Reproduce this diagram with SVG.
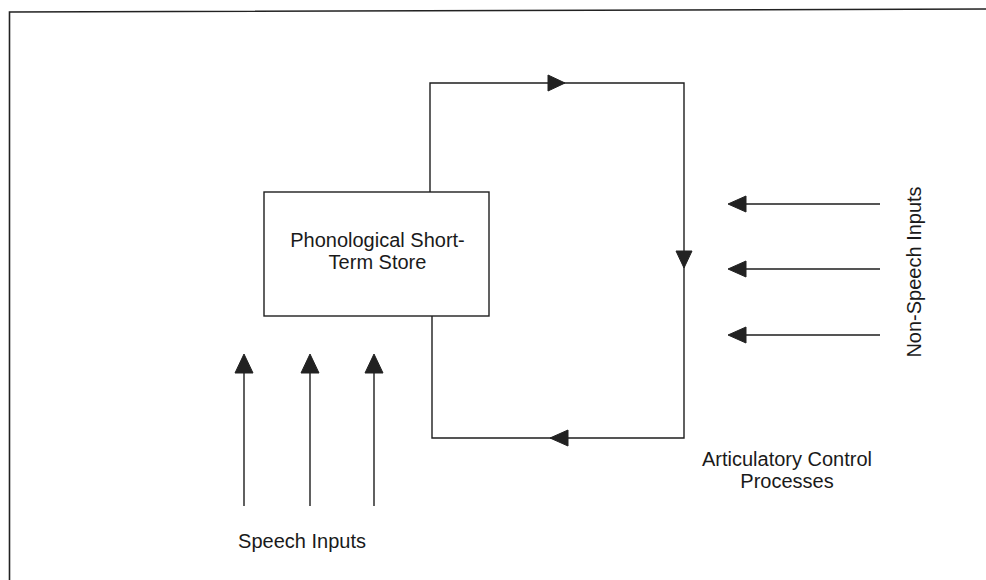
<svg xmlns="http://www.w3.org/2000/svg" width="986" height="580" viewBox="0 0 986 580">
  <style>
    .frame { fill: none; stroke: #222; stroke-width: 1.6; }
    .line { fill: none; stroke: #1e1e1e; stroke-width: 1.4; }
    .box { fill: #fff; stroke: #1e1e1e; stroke-width: 1.4; }
    .head { fill: #222; stroke: #222; stroke-width: 1; stroke-linejoin: round; }
    .label { font-family: "Liberation Sans", Arial, sans-serif; font-size: 20px; fill: #1a1a1a; }
  </style>

  <rect width="986" height="580" fill="#fff"/>

  <!-- outer frame (top and left edges only) -->
  <path class="frame" d="M9.5 580 L9.5 12 L986 9"/>

  <!-- store node -->
  <g id="store">
    <rect class="box" x="264" y="192" width="225" height="124"/>
    <text class="label" x="377.5" y="247" text-anchor="middle">Phonological Short-</text>
    <text class="label" x="377.5" y="269" text-anchor="middle">Term Store</text>
  </g>

  <!-- articulatory loop label -->
  <g id="articulatory">
    <text class="label" x="787" y="466" text-anchor="middle">Articulatory Control</text>
    <text class="label" x="787" y="488" text-anchor="middle">Processes</text>
  </g>

  <g id="speech-label">
    <text class="label" x="302" y="548" text-anchor="middle">Speech Inputs</text>
  </g>

  <g id="nonspeech-label">
    <text class="label" x="0" y="0" text-anchor="middle" transform="translate(921 272) rotate(-90)">Non-Speech Inputs</text>
  </g>

  <!-- connectors -->
  <g id="connectors">
    <!-- rehearsal loop -->
    <path class="line" d="M430 192 L430 83 L684 83 L684 438 L432 438 L432 316"/>
    <polygon class="head" points="565,83 548,75 548,91"/>
    <polygon class="head" points="684,268 676,251 692,251"/>
    <polygon class="head" points="550,438 568,430 568,446"/>

    <!-- speech inputs -->
    <path class="line" d="M244 506 L244 370 M310 506 L310 370 M374 506 L374 370"/>
    <polygon class="head" points="244,354 235,373 253,373"/>
    <polygon class="head" points="310,354 301,373 319,373"/>
    <polygon class="head" points="374,354 365,373 383,373"/>

    <!-- non-speech inputs -->
    <path class="line" d="M880 204 L744 204 M880 269 L744 269 M880 335 L744 335"/>
    <polygon class="head" points="728,204 746,196 746,212"/>
    <polygon class="head" points="728,269 746,261 746,277"/>
    <polygon class="head" points="728,335 746,327 746,343"/>
  </g>
</svg>
